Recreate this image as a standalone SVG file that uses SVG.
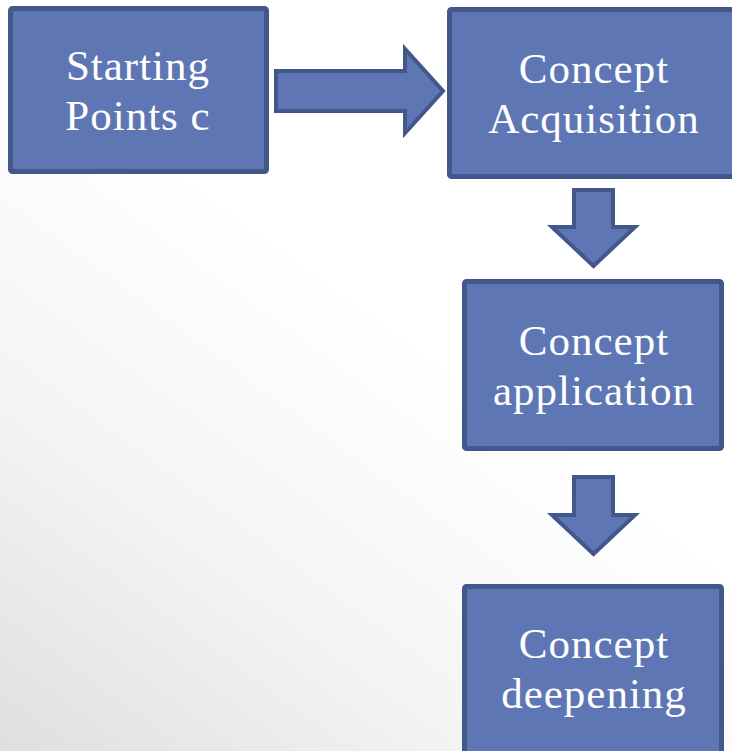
<svg xmlns="http://www.w3.org/2000/svg" width="732" height="751" viewBox="0 0 732 751">
  <defs>
    <linearGradient id="bg" x1="0" y1="1" x2="0.5" y2="0.3">
      <stop offset="0" stop-color="#dfdfdf"/>
      <stop offset="0.45" stop-color="#f4f4f4"/>
      <stop offset="0.9" stop-color="#ffffff"/>
    </linearGradient>
  </defs>
  <style>
    .box { fill: #5F76B4; stroke: #43578A; stroke-width: 5; }
    .arrow { fill: #5F76B4; stroke: #43578A; stroke-width: 4; stroke-linejoin: miter; }
    .label { font-family: "Liberation Serif", "DejaVu Serif", serif; font-size: 43px; fill: #ffffff; text-anchor: middle; letter-spacing: 1px; }
  </style>
  <rect x="0" y="0" width="732" height="751" fill="url(#bg)"/>
  <g id="connectors">
    <path class="arrow" d="M276,71 L405,71 L405,49 L443,91 L405,133 L405,111 L276,111 Z"/>
    <path class="arrow" d="M574,190 L613,190 L613,227 L635,227 L593.5,266 L552,227 L574,227 Z"/>
    <path class="arrow" d="M574,477 L613,477 L613,515 L635,515 L593.5,554 L552,515 L574,515 Z"/>
  </g>
  <g id="starting-points">
    <rect class="box" x="10.5" y="8.5" width="256" height="163" rx="2"/>
    <text class="label" x="138" y="80">Starting</text>
    <text class="label" x="138" y="130">Points c</text>
  </g>
  <g id="concept-acquisition">
    <rect class="box" x="449.5" y="9.5" width="290" height="167" rx="2"/>
    <text class="label" x="594" y="83">Concept</text>
    <text class="label" x="594" y="133">Acquisition</text>
  </g>
  <g id="concept-application">
    <rect class="box" x="464.5" y="281.5" width="257" height="167" rx="2"/>
    <text class="label" x="594" y="355">Concept</text>
    <text class="label" x="594" y="405">application</text>
  </g>
  <g id="concept-deepening">
    <rect class="box" x="464.5" y="586.5" width="257" height="200" rx="2"/>
    <text class="label" x="594" y="658">Concept</text>
    <text class="label" x="594" y="708">deepening</text>
  </g>
</svg>
